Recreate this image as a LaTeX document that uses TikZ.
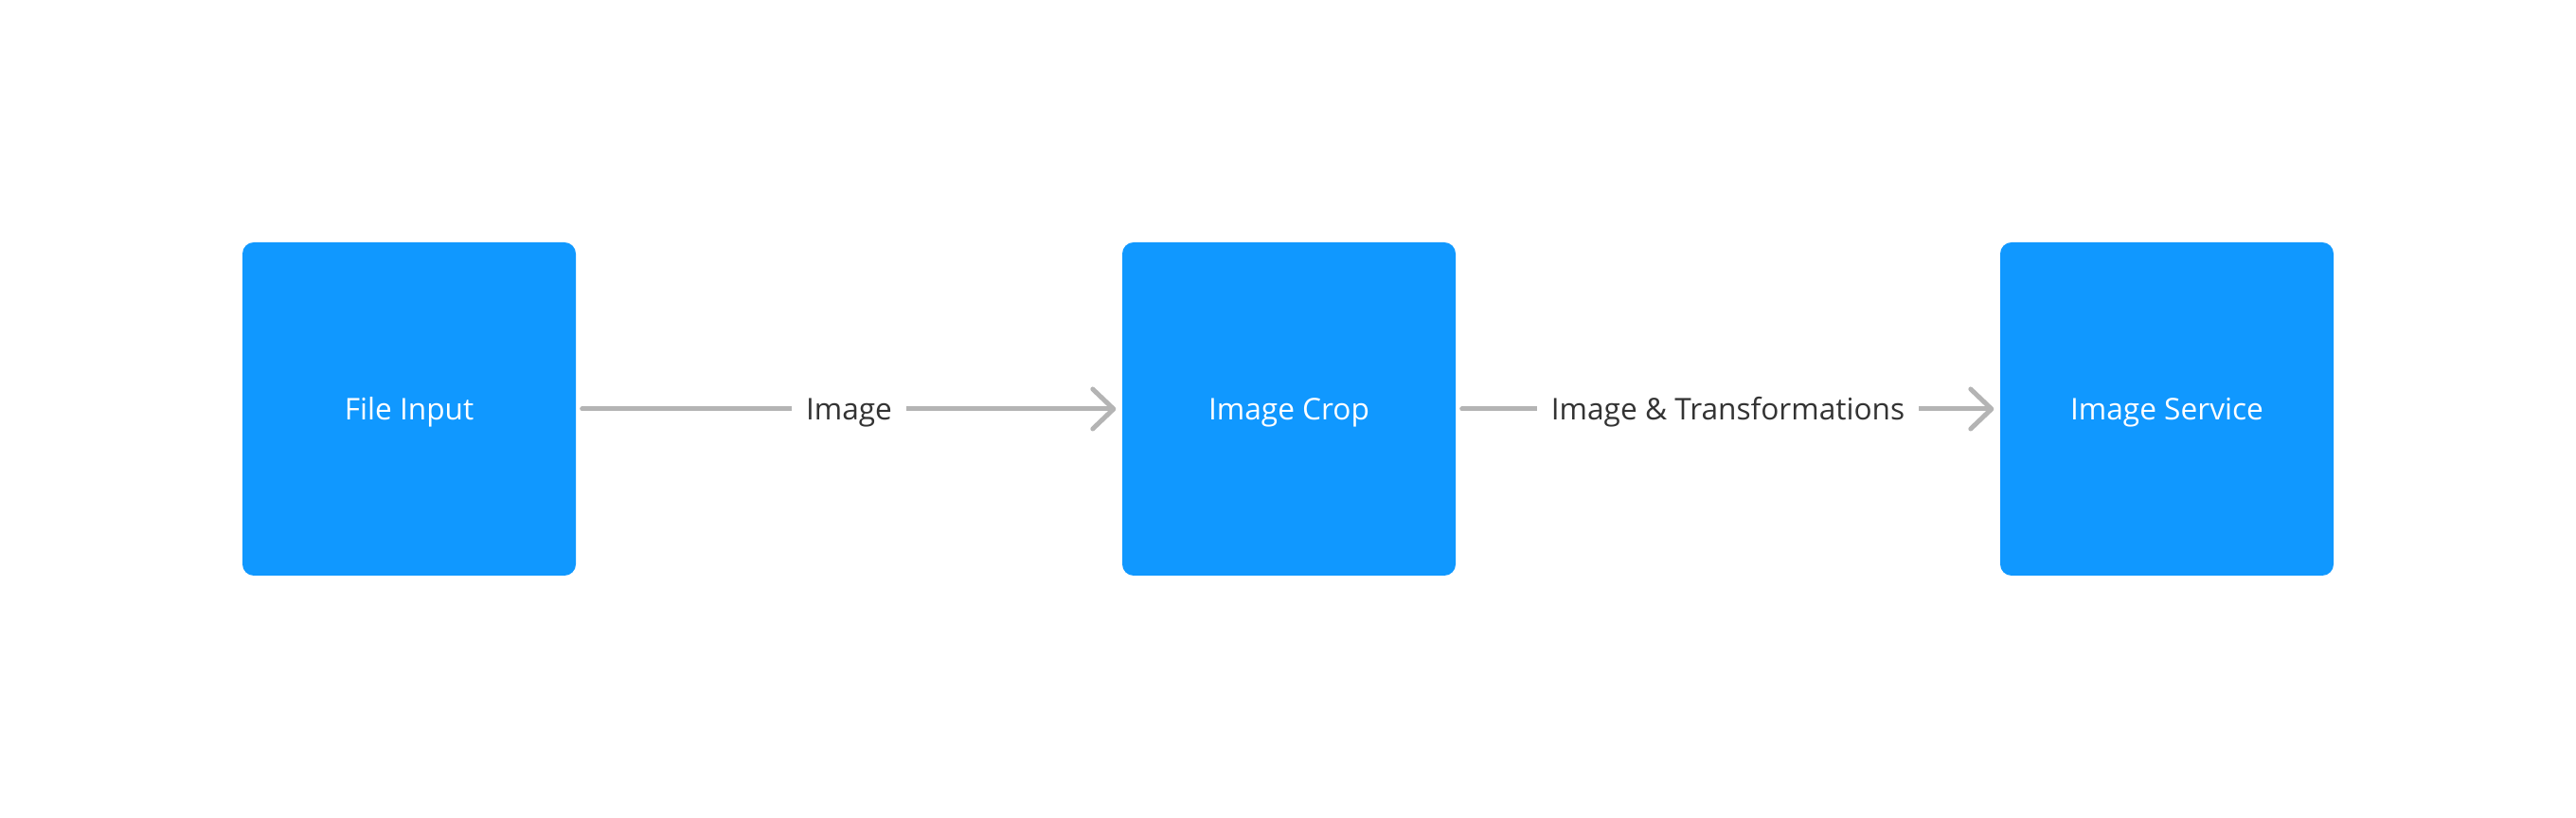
\documentclass[tikz,border=0pt]{standalone}
\usepackage{fontspec}
\setmainfont{Open Sans}
\usepackage{tikz}
\usetikzlibrary{
    arrows.meta,
    positioning
}
\usepackage{xcolor}
\definecolor{boxblue}{HTML}{1098FF}
\definecolor{linegray}{HTML}{B4B4B4}
\definecolor{labelgray}{HTML}{333333}

\begin{document}
\begin{tikzpicture}[
        >={Straight Barb[length=0.22cm, width=0.42cm, round]},
        stage/.style={
            rectangle,
            fill=boxblue,
            rounded corners=0.12cm,
            minimum size=3.52cm,
            text=white,
            text height=6.4pt,
            text depth=0pt,
            font=\fontsize{9pt}{11pt}\selectfont
        },
        flow/.style={
            ->,
            draw=linegray,
            line width=0.05cm,
            line cap=round,
            shorten <=0.06cm,
            shorten >=0.06cm
        },
        flowlabel/.style={
            fill=white,
            inner sep=0.15cm,
            text=labelgray,
            text height=6.4pt,
            text depth=0pt,
            font=\fontsize{9pt}{11pt}\selectfont
        }
    ]
    \useasboundingbox (0,0) rectangle (27.2,8.64);

    \node[stage] (File)    at (4.32,4.32)  {File Input};
    \node[stage] (Crop)    at (13.61,4.32) {Image Crop};
    \node[stage] (Service) at (22.88,4.32) {Image Service};

    \draw[flow] (File) -- node[flowlabel] {Image} (Crop);
    \draw[flow] (Crop) -- node[flowlabel] {Image \& Transformations} (Service);

\end{tikzpicture}
\end{document}
